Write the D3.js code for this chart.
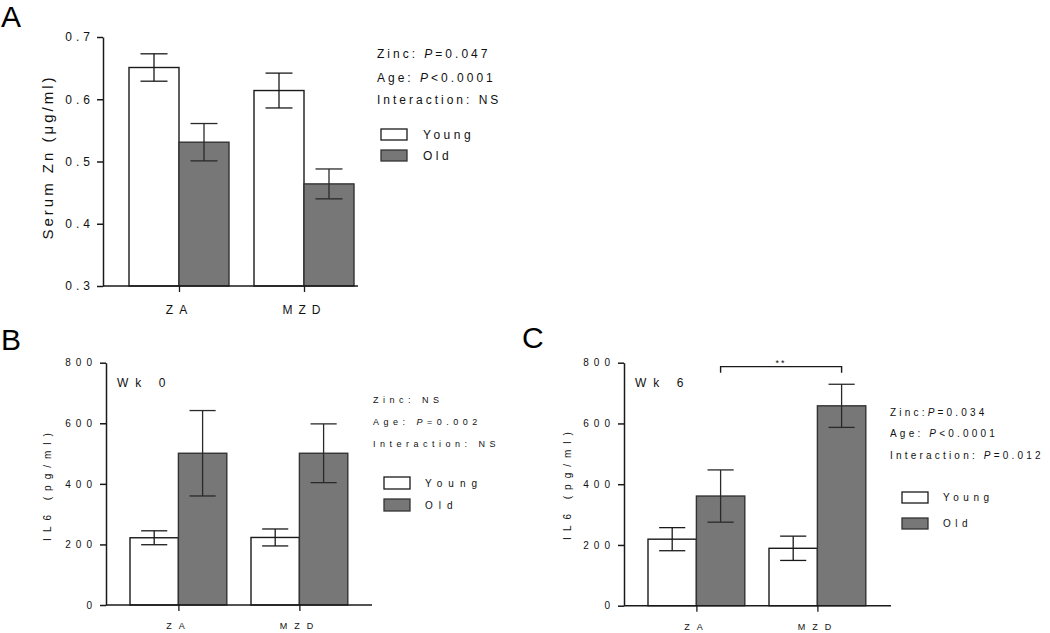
<!DOCTYPE html>
<html><head><meta charset="utf-8">
<script src="https://cdn.jsdelivr.net/npm/d3@7"></script>
<style>
body{margin:0;background:#fff;}
svg{display:block;font-family:"Liberation Sans",Arial,sans-serif;}
</style>
</head><body>
<svg id="chart" width="1050" height="633"></svg>
<script>
// ---------- DATA ----------
const categories = ["ZA", "MZD"];
const groups = ["Young", "Old"];

// Panel A: serum Zn (µg/ml), mean ± SEM
const znYoung = [0.651, 0.614];
const znYoungErr = [0.022, 0.028];
const znOld = [0.531, 0.464];
const znOldErr = [0.030, 0.024];
const znTicks = [0.3, 0.4, 0.5, 0.6, 0.7];
const statsA = ["Zinc: P=0.047", "Age: P<0.0001", "Interaction: NS"];

// Panel B: IL6 (pg/ml) week 0
const il6Wk0Young = [222, 223];
const il6Wk0YoungErr = [23, 28];
const il6Wk0Old = [501, 501];
const il6Wk0OldErr = [141, 97];
const statsB = ["Zinc: NS", "Age: P=0.002", "Interaction: NS"];

// Panel C: IL6 (pg/ml) week 6
const il6Wk6Young = [219, 189];
const il6Wk6YoungErr = [38, 40];
const il6Wk6Old = [361, 658];
const il6Wk6OldErr = [86, 71];
const statsC = ["Zinc:P=0.034", "Age: P<0.0001", "Interaction: P=0.012"];
const il6Ticks = [0, 200, 400, 600, 800];
const bracketC = { from: "ZA", to: "MZD", level: 787, label: "**" };

// ---------- DRAW ----------
const svg = d3.select("#chart");
const FILL = { Young: "#ffffff", Old: "#777777" };
const INK = "#1a1a1a";

function addStatText(g, str, x, y, size, ls) {
  const t = g.append("text").attr("x", x).attr("y", y)
    .attr("font-size", size).style("letter-spacing", ls + "px").attr("fill", "#111");
  const parts = str.split(/(P(?=[=<]))/);
  parts.forEach(s => {
    if (!s) return;
    t.append("tspan").text(s).attr("font-style", s === "P" ? "italic" : null);
  });
}

function drawPanel(p) {
  const g = svg.append("g");
  const y = d3.scaleLinear().domain(p.domain).range([p.yBot, p.yTop]);
  const x = d3.scaleBand().domain(categories).range([p.x0, p.x1])
    .paddingInner(0.2).paddingOuter(0.2);
  const xs = d3.scaleBand().domain(groups).range([0, x.bandwidth()]);
  const data = [];
  categories.forEach((c, i) => {
    data.push({ c, g: "Young", v: p.young[i], e: p.youngErr[i] });
    data.push({ c, g: "Old", v: p.old[i], e: p.oldErr[i] });
  });

  // bars
  g.selectAll("rect.bar").data(data).join("rect").attr("class", "bar")
    .attr("x", d => x(d.c) + xs(d.g))
    .attr("y", d => y(d.v))
    .attr("width", xs.bandwidth())
    .attr("height", d => y(p.domain[0]) - y(d.v))
    .attr("fill", d => FILL[d.g])
    .attr("stroke", d => d.g === "Old" ? "#333" : INK)
    .attr("stroke-width", 1.4);

  // error bars
  const cap = xs.bandwidth() * 0.27;
  const eb = g.selectAll("g.err").data(data).join("g").attr("class", "err")
    .attr("transform", d => `translate(${x(d.c) + xs(d.g) + xs.bandwidth() / 2},0)`)
    .attr("stroke", d => d.g === "Old" ? "#2a2a2a" : INK).attr("stroke-width", 1.3);
  eb.append("line").attr("y1", d => y(d.v - d.e)).attr("y2", d => y(d.v + d.e));
  eb.append("line").attr("x1", -cap).attr("x2", cap).attr("y1", d => y(d.v + d.e)).attr("y2", d => y(d.v + d.e));
  eb.append("line").attr("x1", -cap).attr("x2", cap).attr("y1", d => y(d.v - d.e)).attr("y2", d => y(d.v - d.e));

  // y axis
  const ya = g.append("g").attr("transform", `translate(${p.axisX},0)`)
    .call(d3.axisLeft(y).tickValues(p.ticks).tickSize(6).tickSizeOuter(0).tickFormat(p.fmt));
  ya.select(".domain").attr("stroke", INK).attr("stroke-width", 1.5);
  ya.selectAll(".tick line").attr("stroke", INK).attr("stroke-width", 1.5);
  ya.selectAll(".tick text").attr("font-family", "Liberation Sans, Arial, sans-serif")
    .attr("font-size", p.tickSize).style("letter-spacing", p.tickLs + "px").attr("fill", "#111");

  // x axis
  g.append("line").attr("x1", p.axisX).attr("x2", p.axisEnd)
    .attr("y1", p.yBot).attr("y2", p.yBot).attr("stroke", INK).attr("stroke-width", 1.5);
  const xa = g.append("g").attr("transform", `translate(0,${p.yBot})`)
    .call(d3.axisBottom(d3.scalePoint().domain(categories)
      .range([x(categories[0]) + x.bandwidth() / 2, x(categories[1]) + x.bandwidth() / 2]))
      .tickSize(6).tickSizeOuter(0).tickPadding(p.catPad));
  xa.select(".domain").remove();
  xa.selectAll(".tick line").attr("stroke", INK).attr("stroke-width", 1.3);
  xa.selectAll(".tick text").attr("font-family", "Liberation Sans, Arial, sans-serif")
    .attr("font-size", p.catSize).style("letter-spacing", p.catLs + "px").attr("fill", "#111");

  // y label
  g.append("text").attr("transform", `translate(${p.ylabX},${p.ylabY}) rotate(-90)`)
    .attr("text-anchor", "middle").attr("font-size", p.ylabSize)
    .style("letter-spacing", p.ylabLs + "px").attr("fill", "#111").text(p.ylab);

  // panel letter
  g.append("text").attr("x", p.letterX).attr("y", p.letterY)
    .attr("font-family", "Liberation Sans, Arial, sans-serif")
    .attr("font-size", 30).attr("fill", "#000").text(p.letter);

  // week label
  if (p.wk) {
    g.append("text").attr("x", p.wkX).attr("y", p.wkY).attr("font-size", 12)
      .style("letter-spacing", "7px").attr("fill", "#111").text(p.wk);
  }

  // stats
  p.stats.forEach((s, i) => addStatText(g, s, p.statX, p.statY[i], p.statSize, p.statLs));

  // legend
  groups.forEach((gr, i) => {
    g.append("rect").attr("x", p.legX).attr("y", p.legY[i]).attr("width", 26).attr("height", p.legH)
      .attr("fill", FILL[gr]).attr("stroke", gr === "Old" ? "#333" : INK).attr("stroke-width", 1.3);
    g.append("text").attr("x", p.legTextX).attr("y", p.legY[i] + p.legH / 2 + p.legSize * 0.36)
      .attr("font-size", p.legSize).style("letter-spacing", p.legLs + "px").attr("fill", "#111").text(gr);
  });

  // significance bracket
  if (p.bracket) {
    const b = p.bracket;
    const xa1 = x(b.from) + xs("Old") + xs.bandwidth() / 2;
    const xa2 = x(b.to) + xs("Old") + xs.bandwidth() / 2;
    const yb = y(b.level);
    g.append("path").attr("d", `M${xa1},${yb + 6}V${yb}H${xa2}V${yb + 6}`)
      .attr("fill", "none").attr("stroke", INK).attr("stroke-width", 1.4);
    g.append("text").attr("x", (xa1 + xa2) / 2).attr("y", yb - 1).attr("text-anchor", "middle")
      .attr("font-size", 9).style("letter-spacing", "2px").attr("fill", "#111").text(b.label);
  }
}

drawPanel({
  letter: "A", letterX: 1, letterY: 27,
  young: znYoung, youngErr: znYoungErr, old: znOld, oldErr: znOldErr,
  domain: [0.3, 0.7], ticks: znTicks, fmt: d3.format(".1f"),
  x0: 104, x1: 379, axisX: 103, axisEnd: 358, yTop: 37, yBot: 286,
  tickSize: 12, tickLs: 4, catSize: 12, catLs: 6, catPad: 13,
  ylab: "Serum Zn (μg/ml)", ylabX: 53, ylabY: 157, ylabSize: 15, ylabLs: 3,
  stats: statsA, statX: 377, statY: [58, 82, 104], statSize: 12, statLs: 3,
  legX: 381, legY: [129, 150], legH: 11, legTextX: 423, legSize: 12, legLs: 3.5
});

drawPanel({
  letter: "B", letterX: 1, letterY: 350,
  young: il6Wk0Young, youngErr: il6Wk0YoungErr, old: il6Wk0Old, oldErr: il6Wk0OldErr,
  domain: [0, 800], ticks: il6Ticks, fmt: d3.format("d"),
  x0: 105.8, x1: 372, axisX: 106, axisEnd: 372, yTop: 362.7, yBot: 605,
  tickSize: 10, tickLs: 5, catSize: 9, catLs: 7, catPad: 12,
  ylab: "IL6 (pg/ml)", ylabX: 51, ylabY: 484, ylabSize: 10, ylabLs: 6,
  wk: "Wk 0", wkX: 117, wkY: 387,
  stats: statsB, statX: 373, statY: [403, 425, 447], statSize: 9, statLs: 4.5,
  legX: 384, legY: [477, 499], legH: 12, legTextX: 425, legSize: 10, legLs: 6
});

drawPanel({
  letter: "C", letterX: 522, letterY: 348,
  young: il6Wk6Young, youngErr: il6Wk6YoungErr, old: il6Wk6Old, oldErr: il6Wk6OldErr,
  domain: [0, 800], ticks: il6Ticks, fmt: d3.format("d"),
  x0: 623.8, x1: 890, axisX: 624, axisEnd: 891, yTop: 362.7, yBot: 605.7,
  tickSize: 10, tickLs: 5, catSize: 9, catLs: 7, catPad: 12,
  ylab: "IL6 (pg/ml)", ylabX: 571, ylabY: 483, ylabSize: 10, ylabLs: 6,
  wk: "Wk 6", wkX: 635, wkY: 387,
  stats: statsC, statX: 890, statY: [416, 437, 459], statSize: 10, statLs: 3.2,
  legX: 902, legY: [492, 518], legH: 11, legTextX: 943, legSize: 10, legLs: 4.5,
  bracket: bracketC
});
</script>
</body></html>
